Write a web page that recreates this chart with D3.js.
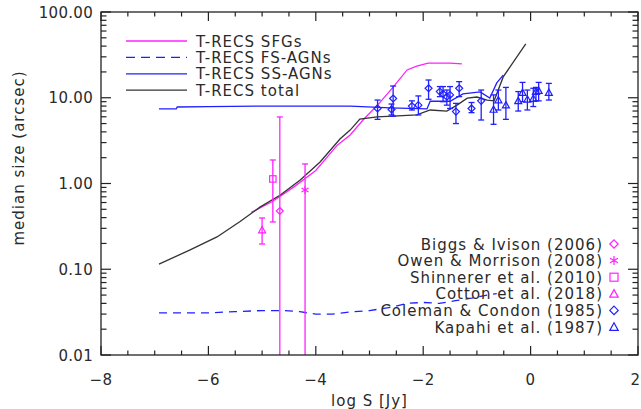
<!DOCTYPE html>
<html><head><meta charset="utf-8">
<script src="https://cdn.jsdelivr.net/npm/d3@7"></script>
<style>
body{margin:0;background:#fff;}
text{font-family:"DejaVu Sans",sans-serif;fill:#2a2a2a;}
</style></head>
<body><svg id="c" width="641" height="409"></svg>
<script>
// ---- data ----
const xTickValues = [-8,-6,-4,-2,0,2];
const xTickLabels = ["−8","−6","−4","−2","0","2"];
const yTickValues = [0.01,0.1,1,10,100];
const yTickLabels = ["0.01","0.10","1.00","10.00","100.00"];

const sfgX = [-5.2,-4.8,-4.4,-4.0,-3.6,-3.36,-3.12,-2.80,-2.56,-2.30,-2.12,-1.91,-1.50,-1.28];
const sfgY = [0.46,0.62,0.92,1.42,2.8,3.68,5.5,8.9,13.3,21.1,23.4,25.4,25.4,24.8];

const fsX = [-6.92,-6.0,-5.5,-5.0,-4.6,-4.3,-4.0,-3.7,-3.3,-3.0,-2.6,-2.3,-2.0,-1.7,-1.4,-1.1,-0.8,-0.63];
const fsY = [0.031,0.031,0.032,0.033,0.033,0.032,0.030,0.030,0.032,0.033,0.036,0.040,0.041,0.040,0.043,0.046,0.050,0.052];

const ssX = [-6.92,-6.6,-6.58,-6.0,-5.0,-4.0,-3.36,-2.62,-1.93,-1.87,-1.5,-1.26,-0.94,-0.76,-0.63,-0.51];
const ssY = [7.4,7.4,7.8,7.9,8.0,8.0,8.0,7.6,7.4,9.1,9.1,11.1,11.7,9.9,14.9,18.4];

const totX = [-6.92,-6.34,-5.84,-5.41,-5.04,-4.66,-4.29,-3.92,-3.55,-3.36,-3.18,-2.86,-2.56,-2.12,-1.87,-1.56,-1.37,-1.18,-1.0,-0.81,-0.68,-0.51,-0.09];
const totY = [0.115,0.168,0.238,0.36,0.53,0.735,1.10,1.78,3.3,4.2,5.65,5.97,6.1,6.3,7.2,7.0,8.2,9.9,10.2,9.4,9.2,17.5,42.4];

// observations: x, y, low, high
const biggs   = {x:[-4.67], y:[0.478], lo:[0.001], hi:[5.97]};
const owen    = {x:[-4.2],  y:[0.84],  lo:[0.001], hi:[1.69]};
const schinn  = {x:[-4.8],  y:[1.13],  lo:[0.356], hi:[1.88]};
const cotton  = {x:[-5.0],  y:[0.287], lo:[0.197], hi:[0.396]};
const coleman = {
  x: [-2.85,-2.59,-2.56,-2.21,-2.09,-1.90,-1.69,-1.63,-1.56,-1.50,-1.39,-1.33,-1.10,-0.92],
  y: [7.5,7.3,9.8,8.0,8.2,12.9,11.8,11.1,10.3,10.8,6.9,12.9,7.5,9.2],
  lo:[5.6,6.3,6.1,7.2,6.3,9.6,10.3,9.0,8.2,7.5,5.0,10.3,6.7,5.5],
  hi:[9.4,8.45,13.7,9.2,10.5,16.1,13.5,13.5,12.3,13.5,8.6,15.4,8.8,12.3]
};
const kapahi = {
  x: [-0.69,-0.60,-0.46,-0.23,-0.15,-0.06,0.05,0.10,0.15,0.34],
  y: [7.3,9.4,8.2,9.2,11.5,9.6,9.8,11.8,12.1,11.5],
  lo:[4.9,7.2,5.6,7.0,9.0,7.2,7.9,9.2,9.2,9.4],
  hi:[10.8,12.3,13.2,11.8,15.1,12.3,12.9,13.2,15.1,14.7]
};

const lineLegend = ["T-RECS SFGs","T-RECS FS-AGNs","T-RECS SS-AGNs","T-RECS total"];
const obsLegend = ["Biggs & Ivison (2006)","Owen & Morrison (2008)","Shinnerer et al. (2010)","Cotton et al. (2018)","Coleman & Condon (1985)","Kapahi et al. (1987)"];

// ---- drawing ----
const MAG = "#ff22ff", BLU = "#2020ff", BLK = "#333333";
const L = 101, R = 638, T = 12, B = 355;
const svg = d3.select("#c");
const x = d3.scaleLinear().domain([-8,2]).range([L,R]);
const y = d3.scaleLog().domain([0.01,100]).range([B,T]);

svg.append("defs").append("clipPath").attr("id","clip")
  .append("rect").attr("x",L).attr("y",T).attr("width",R-L).attr("height",B-T);

const plot = svg.append("g").attr("clip-path","url(#clip)");
const line = d3.line().x(d=>x(d[0])).y(d=>y(d[1]));
const zip = (a,b)=>a.map((v,i)=>[v,b[i]]);

plot.append("path").attr("d",line(zip(sfgX,sfgY))).attr("fill","none").attr("stroke",MAG).attr("stroke-width",1.3);
plot.append("path").attr("d",line(zip(fsX,fsY))).attr("fill","none").attr("stroke",BLU).attr("stroke-width",1.3).attr("stroke-dasharray","8,6");
plot.append("path").attr("d",line(zip(ssX,ssY))).attr("fill","none").attr("stroke",BLU).attr("stroke-width",1.3);
plot.append("path").attr("d",line(zip(totX,totY))).attr("fill","none").attr("stroke",BLK).attr("stroke-width",1.3);

function marker(g, type, cx, cy, s, col){
  const st = {stroke:col, "stroke-width":1.2, fill:"none"};
  let el;
  if(type==="diamond") el = g.append("path").attr("d",`M${cx},${cy-s}L${cx+s},${cy}L${cx},${cy+s}L${cx-s},${cy}Z`);
  else if(type==="square") el = g.append("rect").attr("x",cx-s).attr("y",cy-s).attr("width",2*s).attr("height",2*s);
  else if(type==="triangle") el = g.append("path").attr("d",`M${cx},${cy-s}L${cx+s},${cy+s*0.8}L${cx-s},${cy+s*0.8}Z`);
  else if(type==="aster"){
    const a = s*0.87, b = s*0.5;
    el = g.append("path").attr("d",`M${cx},${cy-s}V${cy+s}M${cx-a},${cy-b}L${cx+a},${cy+b}M${cx-a},${cy+b}L${cx+a},${cy-b}`);
  }
  Object.entries(st).forEach(([k,v])=>el.attr(k,v));
}
function obs(ds, type, col, s){
  ds.x.forEach((xv,i)=>{
    const px = x(xv);
    plot.append("line").attr("x1",px).attr("x2",px).attr("y1",y(ds.lo[i])).attr("y2",y(ds.hi[i])).attr("stroke",col).attr("stroke-width",1.3);
    [ds.lo[i],ds.hi[i]].forEach(v=>{
      plot.append("line").attr("x1",px-3).attr("x2",px+3).attr("y1",y(v)).attr("y2",y(v)).attr("stroke",col).attr("stroke-width",1.3);
    });
    marker(plot, type, px, y(ds.y[i]), s, col);
  });
}
obs(coleman,"diamond",BLU,3.5);
obs(kapahi,"triangle",BLU,3.5);
obs(cotton,"triangle",MAG,3.5);
obs(schinn,"square",MAG,3.2);
obs(biggs,"diamond",MAG,3.5);
obs(owen,"aster",MAG,4);

// frame
svg.append("rect").attr("x",L).attr("y",T).attr("width",R-L).attr("height",B-T).attr("fill","none").attr("stroke","#222").attr("stroke-width",1.3);

// ticks
const ax = svg.append("g").attr("stroke","#222").attr("stroke-width",1.2);
const xMinor = d3.range(-8,2.001,0.5).filter(v=>!xTickValues.includes(v));
xTickValues.forEach(v=>{
  ax.append("line").attr("x1",x(v)).attr("x2",x(v)).attr("y1",B).attr("y2",B-9);
  ax.append("line").attr("x1",x(v)).attr("x2",x(v)).attr("y1",T).attr("y2",T+9);
});
xMinor.forEach(v=>{
  ax.append("line").attr("x1",x(v)).attr("x2",x(v)).attr("y1",B).attr("y2",B-4.5);
  ax.append("line").attr("x1",x(v)).attr("x2",x(v)).attr("y1",T).attr("y2",T+4.5);
});
const yMinor = [];
[0.01,0.1,1,10].forEach(d=>{ for(let k=2;k<=9;k++) yMinor.push(d*k); });
yTickValues.forEach(v=>{
  ax.append("line").attr("x1",L).attr("x2",L+10).attr("y1",y(v)).attr("y2",y(v));
  ax.append("line").attr("x1",R).attr("x2",R-10).attr("y1",y(v)).attr("y2",y(v));
});
yMinor.forEach(v=>{
  ax.append("line").attr("x1",L).attr("x2",L+5.5).attr("y1",y(v)).attr("y2",y(v));
  ax.append("line").attr("x1",R).attr("x2",R-5.5).attr("y1",y(v)).attr("y2",y(v));
});

// tick labels (last one kept inside the window)
xTickValues.forEach((v,i)=>{
  const last = i === xTickValues.length-1;
  svg.append("text").attr("x", last ? 640 : x(v)).attr("y",385)
    .attr("text-anchor", last ? "end" : "middle")
    .attr("font-size",15).style("letter-spacing", last ? "0px" : "0.5px").text(xTickLabels[i]);
});
yTickValues.forEach((v,i)=>{
  svg.append("text").attr("x",93).attr("y",y(v)+5.5).attr("text-anchor","end")
    .attr("font-size",15).style("letter-spacing","0.3px").text(yTickLabels[i]);
});

// axis titles
svg.append("text").attr("x",(L+R)/2).attr("y",406).attr("text-anchor","middle")
  .attr("font-size",15).style("letter-spacing","1px").text("log S [Jy]");
svg.append("text").attr("transform","translate(24,158) rotate(-90)").attr("text-anchor","middle")
  .attr("font-size",15).style("letter-spacing","1px").text("median size (arcsec)");

// line legend
const lstyles = [[MAG,null],[BLU,"9,6"],[BLU,null],[BLK,null]];
lineLegend.forEach((t,i)=>{
  const yy = 41 + i*16.4;
  const ln = svg.append("line").attr("x1",126).attr("x2",187).attr("y1",yy).attr("y2",yy)
    .attr("stroke",lstyles[i][0]).attr("stroke-width",1.3);
  if(lstyles[i][1]) ln.attr("stroke-dasharray",lstyles[i][1]);
  svg.append("text").attr("x",196).attr("y",yy+5.5).attr("font-size",15)
    .style("letter-spacing","1px").text(t);
});

// observation legend
const oMarks = [["diamond",MAG,4.2],["aster",MAG,4.5],["square",MAG,4],["triangle",MAG,4.2],["diamond",BLU,4.2],["triangle",BLU,4.2]];
obsLegend.forEach((t,i)=>{
  const yy = 244 + i*16.6;
  svg.append("text").attr("x",603).attr("y",yy+5.5).attr("text-anchor","end").attr("font-size",15)
    .style("letter-spacing","1px").text(t);
  marker(svg, oMarks[i][0], 614, yy, oMarks[i][2], oMarks[i][1]);
});
</script></body></html>
